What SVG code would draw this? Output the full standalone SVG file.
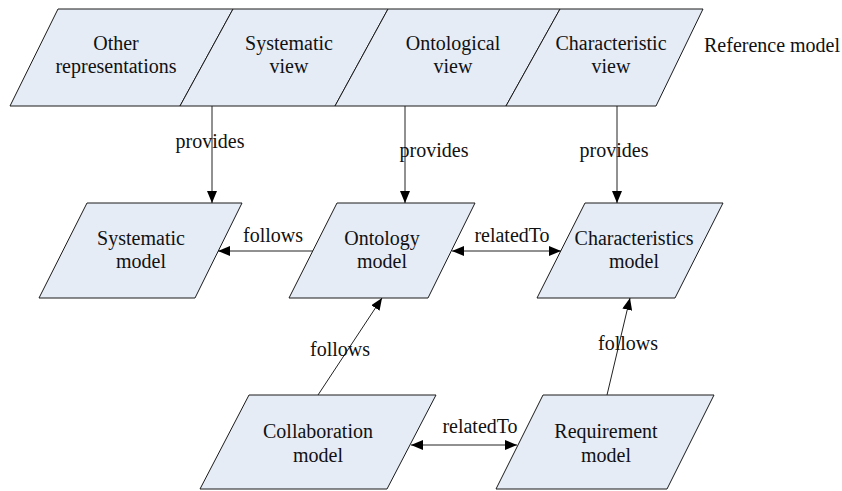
<svg xmlns="http://www.w3.org/2000/svg" width="842" height="491" viewBox="0 0 842 491">
<defs>
<marker id="arr" markerUnits="userSpaceOnUse" markerWidth="12" markerHeight="10" refX="12" refY="5" orient="auto-start-reverse">
<path d="M0,0 L12,5 L0,10 Z" fill="#000"/>
</marker>
<style>
.shape{fill:#E6ECF6;stroke:#1a1a1a;stroke-width:1}
.t{font-family:"Liberation Serif","Times New Roman",serif;font-size:20px;fill:#111;text-anchor:middle}
.tl{font-family:"Liberation Serif","Times New Roman",serif;font-size:20px;fill:#111}
.c{fill:none;stroke:#222;stroke-width:1}
</style>
</defs>
<rect width="842" height="491" fill="#fff"/>

<g id="other-representations">
<polygon class="shape" points="58,9 233,9 180,106 10,106"/>
<text class="t" x="116" y="50">Other</text>
<text class="t" x="116" y="73">representations</text>
</g>
<g id="systematic-view">
<polygon class="shape" points="233,9 388,9 335,106 180,106"/>
<text class="t" x="289" y="50">Systematic</text>
<text class="t" x="289" y="73">view</text>
</g>
<g id="ontological-view">
<polygon class="shape" points="388,9 560,9 506,106 335,106"/>
<text class="t" x="453" y="50">Ontological</text>
<text class="t" x="453" y="73">view</text>
</g>
<g id="characteristic-view">
<polygon class="shape" points="560,9 703,9 656,106 506,106"/>
<text class="t" x="611" y="50">Characteristic</text>
<text class="t" x="611" y="73">view</text>
</g>
<g id="reference-model-label">
<text class="tl" x="704" y="52">Reference model</text>
</g>

<g id="systematic-model">
<polygon class="shape" points="87,203 242,203 195,298 39,298"/>
<text class="t" x="141" y="245">Systematic</text>
<text class="t" x="141" y="268">model</text>
</g>
<g id="ontology-model">
<polygon class="shape" points="337,203 475,203 428,298 289,298"/>
<text class="t" x="382" y="245">Ontology</text>
<text class="t" x="382" y="268">model</text>
</g>
<g id="characteristics-model">
<polygon class="shape" points="585,203 723,203 675,298 537,298"/>
<text class="t" x="634" y="245">Characteristics</text>
<text class="t" x="634" y="268">model</text>
</g>

<g id="collaboration-model">
<polygon class="shape" points="249,395 436,395 387,489 200,489"/>
<text class="t" x="318" y="438">Collaboration</text>
<text class="t" x="318" y="462">model</text>
</g>
<g id="requirement-model">
<polygon class="shape" points="543,395 714,395 667,489 496,489"/>
<text class="t" x="606" y="438">Requirement</text>
<text class="t" x="606" y="462">model</text>
</g>

<g id="connectors">
<line class="c" x1="212" y1="106" x2="212" y2="203" marker-end="url(#arr)"/>
<line class="c" x1="405" y1="106" x2="405" y2="203" marker-end="url(#arr)"/>
<line class="c" x1="617" y1="106" x2="617" y2="203" marker-end="url(#arr)"/>
<line class="c" x1="313" y1="251" x2="218" y2="251" marker-end="url(#arr)"/>
<line class="c" x1="452" y1="251" x2="561" y2="251" marker-start="url(#arr)" marker-end="url(#arr)"/>
<line class="c" x1="318" y1="395" x2="382" y2="298" marker-end="url(#arr)"/>
<line class="c" x1="411" y1="445" x2="517" y2="445" marker-start="url(#arr)" marker-end="url(#arr)"/>
<line class="c" x1="607" y1="395" x2="630" y2="298" marker-end="url(#arr)"/>
<text class="t" x="210" y="148">provides</text>
<text class="t" x="434" y="157">provides</text>
<text class="t" x="614" y="157">provides</text>
<text class="t" x="273" y="242">follows</text>
<text class="t" x="512" y="242">relatedTo</text>
<text class="t" x="340" y="356">follows</text>
<text class="t" x="480" y="433">relatedTo</text>
<text class="t" x="628" y="350">follows</text>
</g>
</svg>
